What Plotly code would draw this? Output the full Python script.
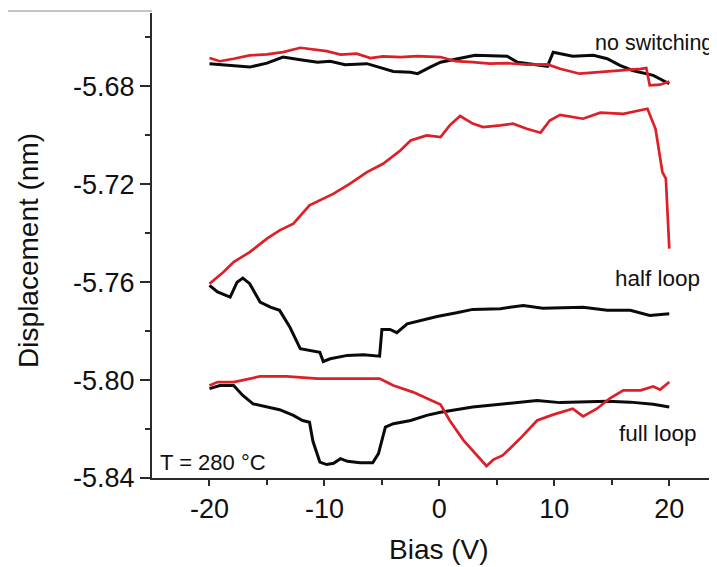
import plotly.graph_objects as go

# ---------------- data ----------------
# "no switching" pair
ns_black_bias = [-20, -17.9, -16.5, -15.0, -13.6, -12.1, -10.6, -9.5, -8.2, -6.3, -4.9, -4.0, -2.5, -1.9,
                 -0.8, 0.1, 3.1, 5.9, 6.8, 8.8, 9.4, 9.9, 10.5, 11.6, 13.4, 14.6, 15.7, 16.8, 18.6, 20]
ns_black_disp = [-5.6707, -5.6714, -5.6721, -5.6705, -5.6680, -5.6691, -5.6701, -5.6697, -5.6711, -5.6707,
                 -5.6728, -5.6739, -5.6742, -5.6748, -5.6721, -5.6701, -5.6673, -5.6677, -5.6701, -5.6714,
                 -5.6718, -5.6660, -5.6666, -5.6677, -5.6673, -5.6687, -5.6714, -5.6735, -5.6755, -5.6789]
ns_red_bias = [-20, -19.1, -17.9, -16.5, -15.0, -13.6, -12.1, -10.6, -9.8, -8.6, -7.2, -6.0, -4.9, -3.4,
               -1.9, 0.1, 1.4, 2.9, 4.4, 5.9, 7.6, 9.4, 10.5, 12.2, 14.0, 15.7, 17.5, 18.0, 18.3, 19.2, 20]
ns_red_disp = [-5.6684, -5.6697, -5.6687, -5.6673, -5.6669, -5.6660, -5.6642, -5.6650, -5.6656, -5.6670,
               -5.6666, -5.6684, -5.6677, -5.6680, -5.6676, -5.6680, -5.6697, -5.6701, -5.6707, -5.6705,
               -5.6711, -5.6710, -5.6728, -5.6748, -5.6742, -5.6735, -5.6728, -5.6725, -5.6796, -5.6793,
               -5.6780]

# "half loop" pair
hl_red_bias = [-20, -18.8, -17.9, -16.5, -15.0, -13.9, -12.7, -11.3, -9.2, -7.8, -6.3, -4.9, -3.4, -2.5,
               -1.1, 0.1, 0.9, 1.8, 2.9, 3.8, 5.3, 6.4, 7.6, 8.8, 9.6, 10.5, 12.5, 14.0, 16.0, 17.7, 18.1,
               18.8, 19.4, 19.7, 20.0]
hl_red_disp = [-5.7606, -5.7559, -5.7518, -5.7477, -5.7422, -5.7388, -5.7361, -5.7286, -5.7238, -5.7198,
               -5.7150, -5.7116, -5.7062, -5.7021, -5.7000, -5.7007, -5.6959, -5.6921, -5.6952, -5.6966,
               -5.6959, -5.6952, -5.6973, -5.6989, -5.6939, -5.6916, -5.6932, -5.6907, -5.6912, -5.6894,
               -5.6891, -5.6973, -5.7150, -5.7177, -5.7463]
hl_black_bias = [-20, -19.3, -18.2, -17.6, -17.1, -16.5, -15.6, -14.7, -13.9, -13.0, -12.1, -10.4, -10.1,
                 -9.5, -8.0, -6.6, -5.2, -5.0, -4.3, -3.7, -2.8, -1.7, -0.2, 1.5, 2.9, 5.3, 7.3, 9.0, 11.1,
                 12.5, 14.6, 16.6, 18.3, 20.0]
hl_black_disp = [-5.7613, -5.7640, -5.7661, -5.7600, -5.7583, -5.7606, -5.7681, -5.7702, -5.7715, -5.7784,
                 -5.7872, -5.7886, -5.7924, -5.7913, -5.7899, -5.7896, -5.7902, -5.7793, -5.7793, -5.7806,
                 -5.7770, -5.7756, -5.7740, -5.7725, -5.7711, -5.7708, -5.7695, -5.7706, -5.7702, -5.7702,
                 -5.7715, -5.7715, -5.7736, -5.7729]

# "full loop" pair
fl_red_bias = [-20, -19.3, -17.9, -15.6, -13.3, -10.6, -9.2, -6.9, -5.2, -4.0, -2.3, 0.1, 0.9, 2.1, 2.9,
               3.5, 4.1, 4.7, 5.5, 7.0, 8.5, 9.9, 11.6, 12.5, 13.7, 14.8, 16.0, 17.5, 18.6, 19.2, 20]
fl_red_disp = [-5.8022, -5.8008, -5.8008, -5.7985, -5.7985, -5.7994, -5.7994, -5.7994, -5.7994, -5.8022,
               -5.8049, -5.8100, -5.8165, -5.8246, -5.8287, -5.8321, -5.8351, -5.8325, -5.8308, -5.8240,
               -5.8165, -5.8141, -5.8117, -5.8148, -5.8117, -5.8076, -5.8042, -5.8042, -5.8026, -5.8039,
               -5.8008]
fl_black_bias = [-20, -19.1, -17.9, -17.1, -16.2, -15.0, -13.9, -12.7, -11.9, -11.3, -11.0, -10.4, -9.8,
                 -9.2, -8.6, -8.0, -6.9, -5.8, -5.3, -4.7, -4.0, -2.5, -1.1, 0.1, 1.8, 2.9, 5.3, 8.5, 10.5,
                 12.5, 14.6, 16.6, 18.6, 20]
fl_black_disp = [-5.8035, -5.8022, -5.8022, -5.8063, -5.8097, -5.8110, -5.8121, -5.8144, -5.8165, -5.8172,
                 -5.8250, -5.8335, -5.8345, -5.8340, -5.8321, -5.8332, -5.8338, -5.8338, -5.8300, -5.8192,
                 -5.8178, -5.8165, -5.8144, -5.8131, -5.8117, -5.8110, -5.8099, -5.8083, -5.8092, -5.8090,
                 -5.8086, -5.8090, -5.8099, -5.8110]

x_tickvals = [-20, -10, 0, 10, 20]
x_ticktext = ["-20", "-10", "0", "10", "20"]
x_minorvals = [-15, -5, 5, 15]
y_tickvals = [-5.84, -5.80, -5.76, -5.72, -5.68]
y_ticktext = ["-5.84", "-5.80", "-5.76", "-5.72", "-5.68"]
y_minorvals = [-5.82, -5.78, -5.74, -5.70, -5.66]

# ---------------- styling ----------------
RED = "#dd1f27"
BLACK = "#0a0a0a"
FONT = "Liberation Sans, Arial, sans-serif"
AX = "#2b2b2b"
XR = [-25, 24.15]
YR = [-5.84, -5.6500]

fig = go.Figure()
for bx, dy, col, w in [
    (ns_black_bias, ns_black_disp, BLACK, 3),
    (ns_red_bias, ns_red_disp, RED, 2.7),
    (hl_black_bias, hl_black_disp, BLACK, 3),
    (hl_red_bias, hl_red_disp, RED, 2.7),
    (fl_black_bias, fl_black_disp, BLACK, 3),
    (fl_red_bias, fl_red_disp, RED, 2.7),
]:
    fig.add_trace(go.Scatter(x=bx, y=dy, mode="lines", line=dict(color=col, width=w),
                             showlegend=False, hoverinfo="skip"))

# the page body has an 8px default margin, so the figure is 8px smaller and margins shifted
fig.update_layout(
    width=709, height=559,
    margin=dict(l=144, r=0, t=5, b=89),
    paper_bgcolor="white", plot_bgcolor="white",
    font=dict(family=FONT, color="#111111"),
    showlegend=False,
    xaxis=dict(range=XR, showgrid=False, zeroline=False, showline=True, linecolor=AX, linewidth=2,
               tickmode="array", tickvals=x_tickvals, ticktext=x_ticktext,
               ticks="outside", ticklen=6, tickwidth=2, tickcolor=AX,
               tickfont=dict(size=27, family=FONT, color="#111111"),
               minor=dict(tickmode="array", tickvals=x_minorvals, ticks="outside", ticklen=5,
                          tickwidth=2, tickcolor=AX, showgrid=False)),
    xaxis2=dict(range=XR, overlaying="x", side="top", anchor="y", showgrid=False, zeroline=False,
                showline=True, linecolor=AX, linewidth=2, showticklabels=False,
                tickmode="array", tickvals=x_tickvals, ticks="inside", ticklen=10, tickwidth=2,
                tickcolor=AX,
                minor=dict(tickmode="array", tickvals=x_minorvals, ticks="inside", ticklen=5,
                           tickwidth=2, tickcolor=AX, showgrid=False)),
    yaxis=dict(range=YR, showgrid=False, zeroline=False, showline=True, linecolor=AX, linewidth=2,
               tickmode="array", tickvals=y_tickvals, ticktext=y_ticktext,
               ticks="outside", ticklen=10, tickwidth=2, tickcolor=AX,
               tickfont=dict(size=27, family=FONT, color="#111111"),
               minor=dict(tickmode="array", tickvals=y_minorvals, ticks="outside", ticklen=5,
                          tickwidth=2, tickcolor=AX, showgrid=False)),
    yaxis2=dict(range=YR, overlaying="y", side="right", anchor="x", showgrid=False, zeroline=False,
                showline=False, showticklabels=False, tickmode="array", tickvals=y_tickvals,
                ticks="inside", ticklen=4, tickwidth=2, tickcolor="#555555"),
)

ann = [
    dict(text="Bias (V)", x=0.508, y=-0.153, xref="paper", yref="paper",
         xanchor="center", yanchor="middle", font=dict(size=28)),
    dict(text="Displacement (nm)", x=-0.219, y=0.489, xref="paper", yref="paper", textangle=-90,
         xanchor="center", yanchor="middle", font=dict(size=28)),
    dict(text="no switching", x=13.4, y=-5.6624, xref="x", yref="y", xanchor="left",
         yanchor="middle", font=dict(size=21.5)),
    dict(text="half loop", x=15.1, y=-5.7585, xref="x", yref="y", xanchor="left",
         yanchor="middle", font=dict(size=22.5)),
    dict(text="full loop", x=15.45, y=-5.8218, xref="x", yref="y", xanchor="left",
         yanchor="middle", font=dict(size=22.5)),
    dict(text="T = 280 °C", x=-24.5, y=-5.8336, xref="x", yref="y", xanchor="left",
         yanchor="middle", font=dict(size=22)),
]
for a in ann:
    a.setdefault("showarrow", False)
    fig.add_annotation(**a)

fig.add_shape(type="line", xref="paper", yref="paper", x0=-0.256, x1=0, y0=1.0043, y1=1.0043,
              line=dict(color="#8a8a8a", width=1))

fig.write_html("out.html")
